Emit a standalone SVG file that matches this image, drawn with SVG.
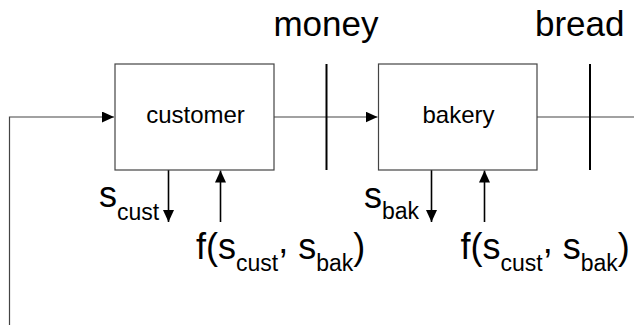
<svg xmlns="http://www.w3.org/2000/svg" width="634" height="325" viewBox="0 0 634 325">
  <style>
    text { font-family: "Liberation Sans", Arial, sans-serif; fill: #000; }
    .big { font-size: 35px; }
    .box { fill: #fff; stroke: #444; stroke-width: 1.2; }
    .boxlabel { font-size: 24px; text-anchor: middle; }
    .flow { stroke: #444; stroke-width: 1.2; fill: none; }
    .bar { stroke: #000; stroke-width: 2; }
    .sig { stroke: #000; stroke-width: 1.6; fill: none; }
    .lbl { font-size: 36px; }
    .sub { font-size: 23px; }
  </style>
  <defs>
    <marker id="arrow" markerUnits="userSpaceOnUse" markerWidth="12" markerHeight="11" refX="12" refY="5.5" orient="auto">
      <path d="M0,0 L12,5.5 L0,11 Z" fill="#000"/>
    </marker>
  </defs>

  <!-- flow labels -->
  <text class="big" x="326" y="36" text-anchor="middle">money</text>
  <text class="big" x="535" y="36">bread</text>

  <!-- connectors -->
  <g id="connectors">
    <polyline class="flow" points="9.5,325 9.5,117 114,117" marker-end="url(#arrow)"/>
    <line class="flow" x1="274" y1="117" x2="377.5" y2="117" marker-end="url(#arrow)"/>
    <line class="flow" x1="537" y1="117" x2="634" y2="117"/>
    <line class="bar" x1="326.5" y1="64" x2="326.5" y2="170"/>
    <line class="bar" x1="590" y1="64" x2="590" y2="170"/>
    <line class="sig" x1="168.5" y1="170" x2="168.5" y2="222" marker-end="url(#arrow)"/>
    <line class="sig" x1="220.5" y1="222" x2="220.5" y2="170.5" marker-end="url(#arrow)"/>
    <line class="sig" x1="431.5" y1="170" x2="431.5" y2="222" marker-end="url(#arrow)"/>
    <line class="sig" x1="484.5" y1="222" x2="484.5" y2="170.5" marker-end="url(#arrow)"/>
  </g>

  <!-- customer node -->
  <g id="customer">
    <rect class="box" x="115" y="64" width="159" height="106"/>
    <text class="boxlabel" x="195.5" y="123">customer</text>
    <text class="lbl" x="99" y="207">s<tspan class="sub" dy="12.5">cust</tspan></text>
    <text class="lbl" x="196" y="258.5">f(s<tspan class="sub" dy="12.5">cust</tspan><tspan dy="-18.5">,</tspan><tspan dy="6"> s</tspan><tspan class="sub" dy="12.5">bak</tspan><tspan dy="-12.5">)</tspan></text>
  </g>

  <!-- bakery node -->
  <g id="bakery">
    <rect class="box" x="378.5" y="64" width="158.5" height="106"/>
    <text class="boxlabel" x="458.5" y="123">bakery</text>
    <text class="lbl" x="364" y="208">s<tspan class="sub" dy="11">bak</tspan></text>
    <text class="lbl" x="460.5" y="259">f(s<tspan class="sub" dy="12">cust</tspan><tspan dy="-18">,</tspan><tspan dy="6"> s</tspan><tspan class="sub" dy="12">bak</tspan><tspan dy="-12">)</tspan></text>
  </g>
</svg>
